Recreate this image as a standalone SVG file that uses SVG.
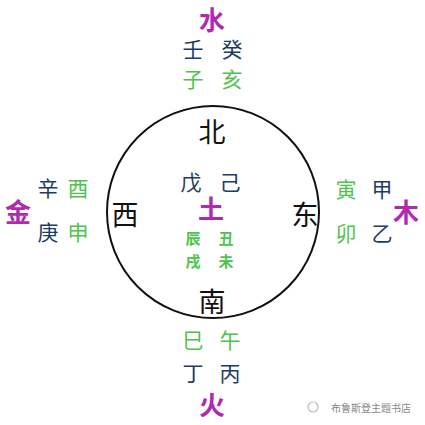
<svg xmlns="http://www.w3.org/2000/svg" width="425" height="425" viewBox="0 0 425 425">
<style>
text{font-family:"Noto Sans CJK SC","Noto Sans",sans-serif;text-anchor:middle;dominant-baseline:central}
.el{fill:#b02ab0;font-size:26px;font-weight:bold}
.st{fill:#1d3c62;font-size:21px}
.br{fill:#4cc44c;font-size:21px}
.brs{fill:#4cc44c;font-size:15px;font-weight:bold}
.dir{fill:#111;font-size:27px}
.wm{fill:#888;font-size:10px}
</style>
<rect width="425" height="425" fill="#fff"/>
<g id="circle"><circle cx="213" cy="212" r="106" fill="none" stroke="#111" stroke-width="2"/></g>
<g id="north">
<text class="el" x="212" y="18">水</text>
<text class="st" x="193" y="48">壬</text>
<text class="st" x="232" y="48">癸</text>
<text class="br" x="193" y="78">子</text>
<text class="br" x="232" y="78">亥</text>
</g>
<g id="west">
<text class="el" x="18" y="210">金</text>
<text class="st" x="48" y="187">辛</text>
<text class="st" x="48" y="231">庚</text>
<text class="br" x="78" y="187">酉</text>
<text class="br" x="78" y="231">申</text>
</g>
<g id="east">
<text class="br" x="346" y="188">寅</text>
<text class="br" x="346" y="232">卯</text>
<text class="st" x="382" y="188">甲</text>
<text class="st" x="382" y="232">乙</text>
<text class="el" x="406" y="210">木</text>
</g>
<g id="south">
<text class="br" x="193" y="339">巳</text>
<text class="br" x="230" y="339">午</text>
<text class="st" x="193" y="372">丁</text>
<text class="st" x="230" y="372">丙</text>
<text class="el" x="212" y="403">火</text>
</g>
<g id="directions">
<text class="dir" x="212" y="130">北</text>
<text class="dir" x="125" y="213">西</text>
<text class="dir" x="305" y="213">东</text>
<text class="dir" x="212" y="300">南</text>
</g>
<g id="center">
<text class="st" x="191" y="181">戊</text>
<text class="st" x="230" y="181">己</text>
<text class="el" x="211" y="207">土</text>
<text class="brs" x="193" y="237">辰</text>
<text class="brs" x="226" y="237">丑</text>
<text class="brs" x="193" y="260">戌</text>
<text class="brs" x="226" y="260">未</text>
</g>
<g id="watermark">
<circle cx="313" cy="407" r="5" fill="none" stroke="#bbb" stroke-width="1.2"/>
<text class="wm" x="371" y="407">布鲁斯登主题书店</text>
</g>
</svg>
